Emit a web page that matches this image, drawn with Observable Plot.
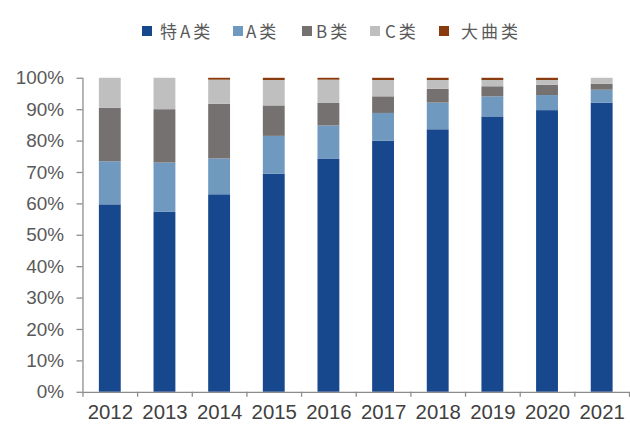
<!DOCTYPE html>
<html>
<head>
<meta charset="utf-8">
<script src="https://cdn.jsdelivr.net/npm/d3@7"></script>
<script src="https://cdn.jsdelivr.net/npm/@observablehq/plot@0.6"></script>
<style>
  html, body { margin: 0; padding: 0; background: #fff; overflow: hidden; }
  #legend { position: relative; height: 44px; width: 630px; font-family: "Noto Sans CJK SC", sans-serif; font-size: 17px; color: #595959; }
  .sw { position: absolute; top: 26px; width: 10px; height: 10px; }
  .lt { position: absolute; top: 19px; line-height: 24px; letter-spacing: 3px; }
</style>
</head>
<body>
<div id="legend"></div>
<div id="chart"></div>
<script>
const years = [2012, 2013, 2014, 2015, 2016, 2017, 2018, 2019, 2020, 2021];
const seriesNames = ["特A类", "A类", "B类", "C类", "大曲类"];
const seriesColors = ["#17478D", "#7099C0", "#767171", "#BFBFBF", "#8A3B0E"];
const teA   = [59.7, 57.3, 62.9, 69.4, 74.3, 80.0, 83.6, 87.7, 89.7, 92.1];
const aCls  = [13.7, 15.7, 11.4, 12.1, 10.5,  8.8,  8.5,  6.4,  4.8,  4.1];
const bCls  = [17.0, 17.0, 17.4,  9.7,  7.3,  5.3,  4.4,  3.2,  3.3,  1.9];
const cCls  = [ 9.6, 10.0,  7.7,  8.1,  7.3,  5.2,  2.8,  2.0,  1.5,  1.9];
const daqu  = [ 0.0,  0.0,  0.6,  0.7,  0.6,  0.7,  0.7,  0.7,  0.7,  0.0];
const yTicks = [0, 10, 20, 30, 40, 50, 60, 70, 80, 90, 100];

const seriesValues = [teA, aCls, bCls, cCls, daqu];
const data = [];
years.forEach((yr, i) => {
  seriesNames.forEach((s, j) => data.push({year: yr, series: s, value: seriesValues[j][i]}));
});

// legend
const legend = document.getElementById("legend");
const swLeft = [142, 233, 302, 370, 439];
const txLeft = [160, 246, 316, 385, 461];
seriesNames.forEach((s, j) => {
  const sw = document.createElement("div");
  sw.className = "sw"; sw.style.left = swLeft[j] + "px"; sw.style.background = seriesColors[j];
  legend.appendChild(sw);
  const t = document.createElement("div");
  t.className = "lt"; t.style.left = txLeft[j] + "px"; t.textContent = s;
  legend.appendChild(t);
});

const axisColor = "#8c8c8c";
const chart = Plot.plot({
  width: 634,
  height: 381,
  marginTop: 34,
  marginBottom: 31,
  marginLeft: 83,
  marginRight: 1,
  style: {fontFamily: "'Liberation Sans', Arial, sans-serif", background: "white", overflow: "visible"},
  x: {domain: [2012, 2022], axis: null},
  y: {domain: [0, 100], axis: null},
  color: {domain: seriesNames, range: seriesColors},
  marks: [
    Plot.rectY(data, Plot.stackY({
      x: "year", interval: 1, y: "value", fill: "series",
      insetLeft: 16.5, insetRight: 16.5
    })),
    Plot.ruleY([0], {stroke: axisColor, strokeWidth: 1.3}),
    Plot.ruleX([2012], {stroke: axisColor, strokeWidth: 1.3}),
    Plot.axisY({
      ticks: yTicks, tickSize: 6, tickPadding: 13, label: null,
      tickFormat: d => d + "%", fontSize: 19, color: "#595959",
      stroke: axisColor, strokeWidth: 1.3
    }),
    Plot.axisX({
      ticks: d3.range(2012, 2023), tickSize: 5, tickFormat: () => "", label: null,
      stroke: axisColor, strokeWidth: 1.3
    }),
    Plot.axisX({
      ticks: years.map(y => y + 0.5), tickSize: 0, tickPadding: 12, label: null,
      tickFormat: d => String(Math.floor(d)), fontSize: 20.5, color: "#404040"
    })
  ]
});
document.getElementById("chart").appendChild(chart);
</script>
</body>
</html>
